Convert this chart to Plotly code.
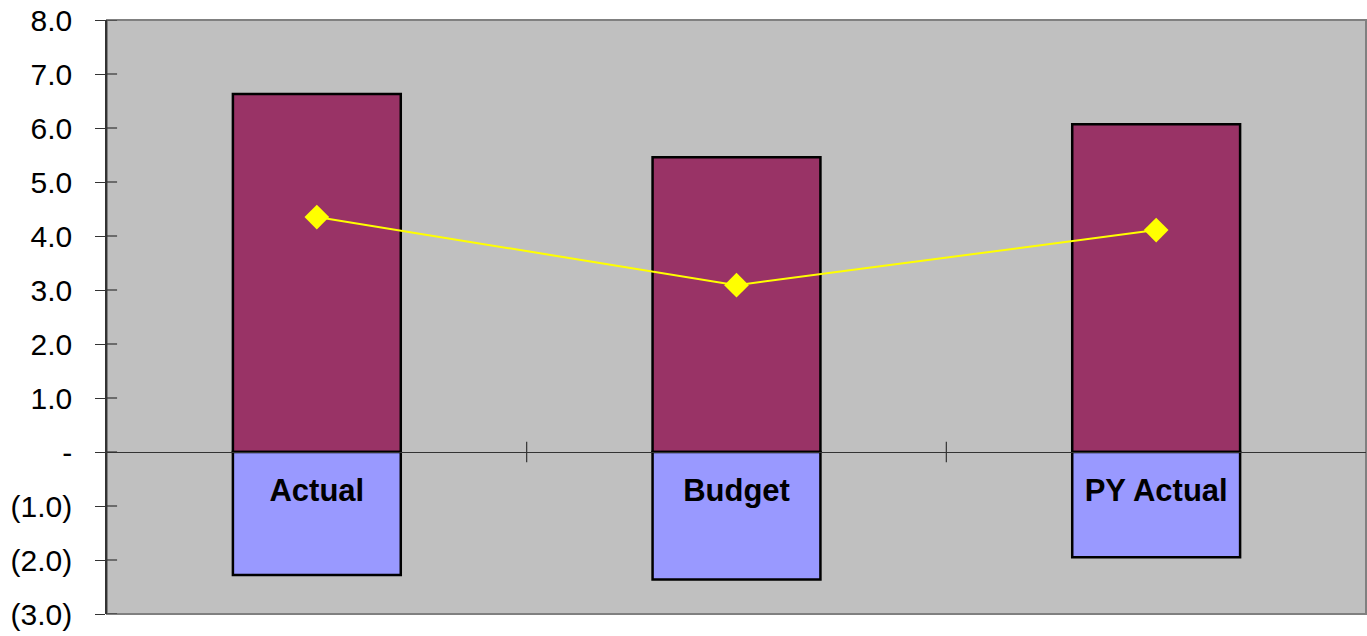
import plotly.graph_objects as go

categories = ["Actual", "Budget", "PY Actual"]
positive_values = [6.63, 5.46, 6.07]
negative_values = [-2.28, -2.36, -1.95]
line_values = [4.35, 3.09, 4.11]
tick_vals = [8, 7, 6, 5, 4, 3, 2, 1, 0, -1, -2, -3]
tick_text = ["8.0", "7.0", "6.0", "5.0", "4.0", "3.0", "2.0", "1.0", "-", "(1.0)", "(2.0)", "(3.0)"]

ymin, ymax = -3, 8

fig = go.Figure()
fig.add_trace(go.Bar(x=categories, y=positive_values, width=0.4,
                     marker=dict(color="#993366", line=dict(color="black", width=2.5)),
                     showlegend=False, hoverinfo="skip"))
fig.add_trace(go.Bar(x=categories, y=negative_values, width=0.4,
                     marker=dict(color="#9999FF", line=dict(color="black", width=2.5)),
                     showlegend=False, hoverinfo="skip"))
fig.add_trace(go.Scatter(x=categories, y=line_values, mode="lines+markers",
                         line=dict(color="#FFFF00", width=2),
                         marker=dict(symbol="diamond", size=19, color="#FFFF00"),
                         showlegend=False))

shapes = []
# crossing tick marks on category axis at category boundaries
for i in range(1, len(categories)):
    shapes.append(dict(type="line", xref="x", yref="y", x0=i - 0.5, x1=i - 0.5,
                       y0=-0.19, y1=0.19, line=dict(color="#333333", width=1.2)))
# inner half of y-axis ticks
for v in tick_vals:
    shapes.append(dict(type="line", xref="paper", yref="y", x0=0, x1=0.008,
                       y0=v, y1=v, line=dict(color="#333333", width=1.2)))
# plot area border (right / bottom / top)
shapes.append(dict(type="rect", xref="paper", yref="paper", x0=0, x1=1, y0=0, y1=1,
                   line=dict(color="#808080", width=2), layer="below"))

fig.update_layout(
    width=1367, height=636,
    margin=dict(l=107, r=1, t=20, b=22),
    paper_bgcolor="white", plot_bgcolor="#C0C0C0",
    barmode="relative", bargap=0.6,
    shapes=shapes,
    font=dict(family="Liberation Sans, Arial, sans-serif", color="black"),
    xaxis=dict(type="category", anchor="free", position=(0 - ymin) / (ymax - ymin),
               showline=True, linecolor="#333333", linewidth=1.2,
               ticks="", showgrid=False, zeroline=False,
               tickfont=dict(size=31, family="Liberation Sans, Arial, sans-serif", weight="bold"),
               ticklabelstandoff=11),
    yaxis=dict(range=[ymin, ymax], tickvals=tick_vals, ticktext=tick_text,
               showline=True, linecolor="#333333", linewidth=1.5,
               ticks="outside", ticklen=10, tickcolor="#333333", tickwidth=1.2,
               showgrid=False, zeroline=False,
               tickfont=dict(size=30), ticklabelstandoff=17),
)

fig.write_html("out.html")
